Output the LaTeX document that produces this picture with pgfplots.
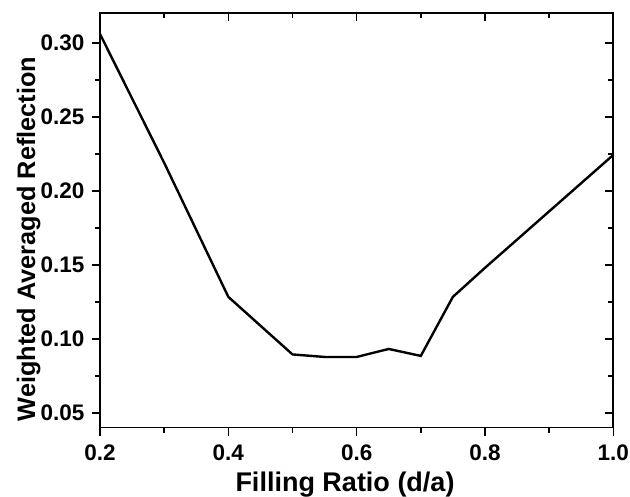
\documentclass[border=0pt]{standalone}
\usepackage{fontspec}
\setmainfont{Liberation Sans}
\usepackage{pgfplots}
\pgfplotsset{compat=1.18}
\begin{document}
\begin{tikzpicture}[x=1pt,y=1pt]
\useasboundingbox (-100,-69.3) rectangle (530,427.7);
\pgfplotsset{common/.style={
  scale only axis, width=513.3pt, height=414.4pt,
  at={(0,0)}, anchor=south west,
  xmin=0.2, xmax=1.0, ymin=0.04, ymax=0.32,
  xtick={0.2,0.4,0.6,0.8,1.0},
  ytick={0.05,0.10,0.15,0.20,0.25,0.30},
  minor x tick num=1, minor y tick num=1,
  axis line style={line width=1.6pt},
  major tick length=8pt, minor tick length=5pt,
  every tick/.style={black, line width=1.5pt},
}}
\begin{axis}[common,
  xtick pos=bottom, ytick pos=left, tick align=outside,
  ticklabel style={font=\bfseries\fontsize{22.5}{26}\selectfont},
  xticklabel shift=6pt, yticklabel shift=4pt,
  /pgf/number format/assume math mode=true,
  xticklabel style={/pgf/number format/.cd, fixed, fixed zerofill, precision=1},
  yticklabel style={/pgf/number format/.cd, fixed, fixed zerofill, precision=2},
  xlabel={Filling Ratio (d/a)},
  ylabel={Weighted Averaged Reflection},
  xlabel style={font=\bfseries\fontsize{27}{30}\selectfont, at={(axis description cs:0.4773,-0.1544)}, anchor=base},
  ylabel style={font=\bfseries\fontsize{25.3}{30}\selectfont, at={(axis description cs:-0.1266,0.4554)}, anchor=base},
]
\addplot[black, line width=2.4pt] coordinates {
(0.2,0.306) (0.3,0.219) (0.4,0.1284) (0.5,0.0895) (0.55,0.0878) (0.6,0.0878)
(0.65,0.0932) (0.7,0.0885) (0.75,0.1284) (0.8,0.1480) (1.0,0.2243)
};
\end{axis}
\begin{axis}[common,
  xtick pos=top, ytick pos=right, tick align=inside,
  xticklabels={}, yticklabels={},
]
\end{axis}
\end{tikzpicture}
\end{document}
